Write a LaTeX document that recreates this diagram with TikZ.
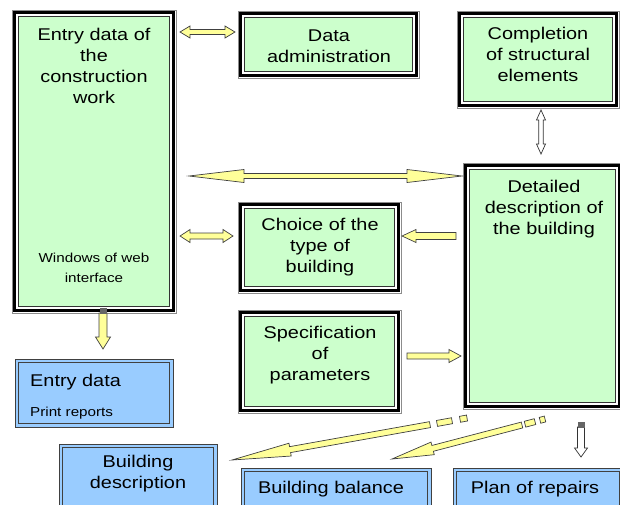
\documentclass[tikz,border=0pt]{standalone}
\usepackage{fontspec}
\setmainfont{Liberation Sans}[FakeStretch=1.17]
\usetikzlibrary{calc}
\definecolor{boxgreen}{HTML}{CCFFCC}
\definecolor{boxblue}{HTML}{99CCFF}
\definecolor{arrowyellow}{HTML}{FFFF99}

% #1 style, #2 start, #3 end, #4 shaft half width, #5 head half width, #6 head length
\newcommand\ArrSetup[2]{%
  \path let \p1=(#1), \p2=(#2), \n1={atan2(\y2-\y1,\x2-\x1)}, \n2={veclen(\x2-\x1,\y2-\y1)} in
    \pgfextra{\xdef\ArAng{\n1}\xdef\ArLen{\n2}};}
\newcommand\DblArrow[6]{%
  \ArrSetup{#2}{#3}%
  \draw[#1, shift={(#2)}, rotate=\ArAng] (0,0) -- (#6,#5) -- (#6,#4) -- (\ArLen-#6,#4) -- (\ArLen-#6,#5)
    -- (\ArLen,0) -- (\ArLen-#6,-#5) -- (\ArLen-#6,-#4) -- (#6,-#4) -- (#6,-#5) -- cycle;}
\newcommand\OneArrow[6]{%
  \ArrSetup{#2}{#3}%
  \draw[#1, shift={(#2)}, rotate=\ArAng] (0,#4) -- (\ArLen-#6,#4) -- (\ArLen-#6,#5)
    -- (\ArLen,0) -- (\ArLen-#6,-#5) -- (\ArLen-#6,-#4) -- (0,-#4) -- cycle;}
\newcommand\DashBar[4]{%
  \ArrSetup{#2}{#3}%
  \draw[#1, shift={(#2)}, rotate=\ArAng] (0,#4) -- (\ArLen,#4) -- (\ArLen,-#4) -- (0,-#4) -- cycle;}
\newcommand\GreenFrame[1]{%
  \draw[black!45, line width=0.8pt, fill=white] (#1.north west) rectangle (#1.south east);
  \draw[black, line width=3pt] ([shift={(2.6,2.6)}]#1.north west) rectangle ([shift={(-2.6,-2.6)}]#1.south east);
  \draw[black!80, line width=1pt, fill=boxgreen] ([shift={(6.5,6.5)}]#1.north west) rectangle ([shift={(-6.5,-6.5)}]#1.south east);}
\newcommand\BlueFrame[1]{%
  \draw[black!75, line width=0.9pt, fill=boxblue] (#1.north west) rectangle (#1.south east);
  \draw[black!75, line width=0.9pt] ([shift={(3.5,3.5)}]#1.north west) rectangle ([shift={(-3.5,-3.5)}]#1.south east);}

\begin{document}
\begin{tikzpicture}[x=1pt,y=-1pt,
  big/.style={font=\fontsize{17}{21}\selectfont, align=center, inner sep=0pt, text=black},
  small/.style={font=\fontsize{13}{20}\selectfont, align=center, inner sep=0pt, text=black},
  area/.style={inner sep=0pt, outer sep=0pt, draw=none},
  yarrow/.style={fill=arrowyellow, draw=black!75, line width=0.7pt, line join=miter},
  warrow/.style={fill=white, draw=black!80, line width=0.7pt, line join=miter},
  stub/.style={fill=black!60, draw=none}]
\useasboundingbox[fill=white] (0,0) rectangle (620,504);
\clip (0,0) rectangle (620,504);

% box areas
\node[area, minimum width=164, minimum height=303] (entry) at (94,161.5) {};
\node[area, minimum width=181, minimum height=67] (admin) at (328.5,44.5) {};
\node[area, minimum width=162, minimum height=97] (compl) at (538,59.5) {};
\node[area, minimum width=159, minimum height=246] (detail) at (542.5,286) {};
\node[area, minimum width=163, minimum height=91] (choice) at (319.5,247.5) {};
\node[area, minimum width=163, minimum height=103] (spec) at (319.5,361.5) {};
\node[area, minimum width=158, minimum height=68] (eprint) at (94,393) {};
\node[area, minimum width=158, minimum height=68] (bdesc) at (138,478) {};
\node[area, minimum width=190, minimum height=44] (bbal) at (336,490) {};
\node[area, minimum width=170, minimum height=44] (plan) at (538,490) {};

\GreenFrame{entry}
\GreenFrame{admin}
\GreenFrame{compl}
\GreenFrame{detail}
\GreenFrame{choice}
\GreenFrame{spec}
\BlueFrame{eprint}
\BlueFrame{bdesc}
\BlueFrame{bbal}
\BlueFrame{plan}

% texts
\node[big] (tentry) at (94,66) {Entry data of\\the\\construction\\work};
\node[small] (tweb) at (94,268) {Windows of web\\interface};
\node[big] (tadmin) at (329,46) {Data\\administration};
\node[big] (tcompl) at (538,54.5) {Completion\\of structural\\elements};
\node[big] (tdetail) at (544,209) {Detailed\\description of\\the building};
\node[big] (tchoice) at (320,247.5) {Choice of the\\type of\\building};
\node[big] (tspec) at (320,355) {Specification\\of\\parameters};
\node[big, anchor=base west] (teprint) at (30,386) {Entry data};
\node[small, anchor=base west] (tprint) at (30,416) {Print reports};
\node[big] (tbdesc) at (138,473.5) {Building\\description};
\node[big, anchor=base] (tbbal) at (331,493) {Building balance};
\node[big, anchor=base] (tplan) at (535,493) {Plan of repairs};

% arrow end points
\coordinate (a1s) at (180,32);   \coordinate (a1e) at (235,32);
\coordinate (a2s) at (189,176);  \coordinate (a2e) at (462,176);
\coordinate (a3s) at (180,236);  \coordinate (a3e) at (233,236);
\coordinate (a4s) at (456,236);  \coordinate (a4e) at (402,236);
\coordinate (a5s) at (407,356);  \coordinate (a5e) at (461,356);
\coordinate (a6s) at (103,313);  \coordinate (a6e) at (103,349);
\coordinate (a7s) at (541,110);  \coordinate (a7e) at (541,154);
\coordinate (a8s) at (581,427);  \coordinate (a8e) at (581,457);
\coordinate (d1s) at (430,424.6); \coordinate (d1e) at (232,460);
\coordinate (d1a) at (452,420.7); \coordinate (d1b) at (437,423.4);
\coordinate (d1c) at (467,418);   \coordinate (d1d) at (460,419.3);
\coordinate (d2s) at (522,425);   \coordinate (d2e) at (392,459);
\coordinate (d2a) at (535,421.6); \coordinate (d2b) at (525,424.2);
\coordinate (d2c) at (545,419);   \coordinate (d2d) at (540,420.3);

\DblArrow{yarrow}{a1s}{a1e}{2.5}{6}{10}
\DblArrow{yarrow}{a2s}{a2e}{2.5}{6.5}{55}
\DblArrow{yarrow}{a3s}{a3e}{3}{6.5}{10}
\OneArrow{yarrow}{a4s}{a4e}{3.5}{6.5}{14}
\OneArrow{yarrow}{a5s}{a5e}{3}{6.5}{12}
\OneArrow{yarrow}{a6s}{a6e}{4}{7.5}{12}
\fill[stub] (99.5,308) rectangle (106.5,314);
\DblArrow{warrow}{a7s}{a7e}{2.2}{4.5}{10}
\OneArrow{warrow}{a8s}{a8e}{3.5}{6.5}{9}
\fill[stub] (577.5,422) rectangle (584.5,428);
\OneArrow{yarrow}{d1s}{d1e}{3}{6.5}{59}
\DashBar{yarrow}{d1a}{d1b}{3}
\DashBar{yarrow}{d1c}{d1d}{3}
\OneArrow{yarrow}{d2s}{d2e}{3}{6.5}{42}
\DashBar{yarrow}{d2a}{d2b}{3}
\DashBar{yarrow}{d2c}{d2d}{3}
\end{tikzpicture}
\end{document}
